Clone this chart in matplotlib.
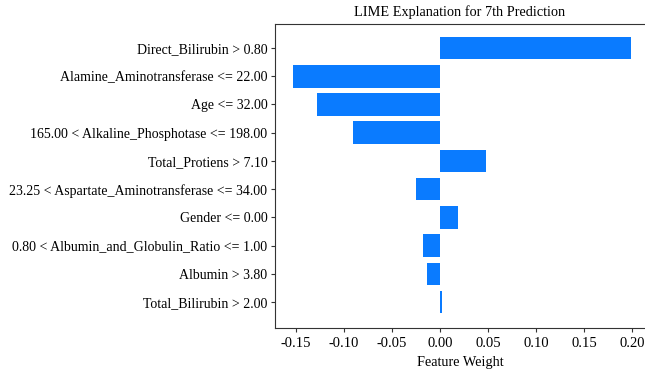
import matplotlib
matplotlib.use("Agg")
import matplotlib.pyplot as plt

features = [
    "Direct_Bilirubin > 0.80",
    "Alamine_Aminotransferase <= 22.00",
    "Age <= 32.00",
    "165.00 < Alkaline_Phosphotase <= 198.00",
    "Total_Protiens > 7.10",
    "23.25 < Aspartate_Aminotransferase <= 34.00",
    "Gender <= 0.00",
    "0.80 < Albumin_and_Globulin_Ratio <= 1.00",
    "Albumin > 3.80",
    "Total_Bilirubin > 2.00",
]
weights = [0.1995, -0.1535, -0.1285, -0.0910, 0.0484, -0.0247, 0.0185, -0.0174, -0.0136, 0.0020]
xticks = [-0.15, -0.10, -0.05, 0.00, 0.05, 0.10, 0.15, 0.20]

plt.rcParams['font.family'] = ['Liberation Serif', 'DejaVu Serif']

fig = plt.figure(figsize=(6.45, 3.76), dpi=100)
ax = fig.add_axes([275/645, 1-328/376, (645-275)/645, (328-24)/376])

n = len(features)
ypos = list(range(n - 1, -1, -1))
ax.barh(ypos, weights, height=0.8, color='#0a7bff')
ax.set_yticks(ypos)
ax.set_yticklabels(features, fontsize=10)
ax.set_xticks(xticks)
ax.set_xticklabels([f"{t:.2f}" for t in xticks], fontsize=10.5)
ax.set_xlim(-0.172, 0.2136)
ax.set_ylim(-0.92, 9.85)
ax.set_xlabel("Feature Weight", fontsize=10.3)
ax.set_title("LIME Explanation for 7th Prediction", fontsize=10.3, pad=6)
for s in ax.spines.values():
    s.set_color('#333333')
ax.spines['right'].set_visible(False)
ax.tick_params(axis='both', length=3, color='#333333')
ax.tick_params(axis='y', pad=2.5)

fig.savefig("out.png", dpi=100)
